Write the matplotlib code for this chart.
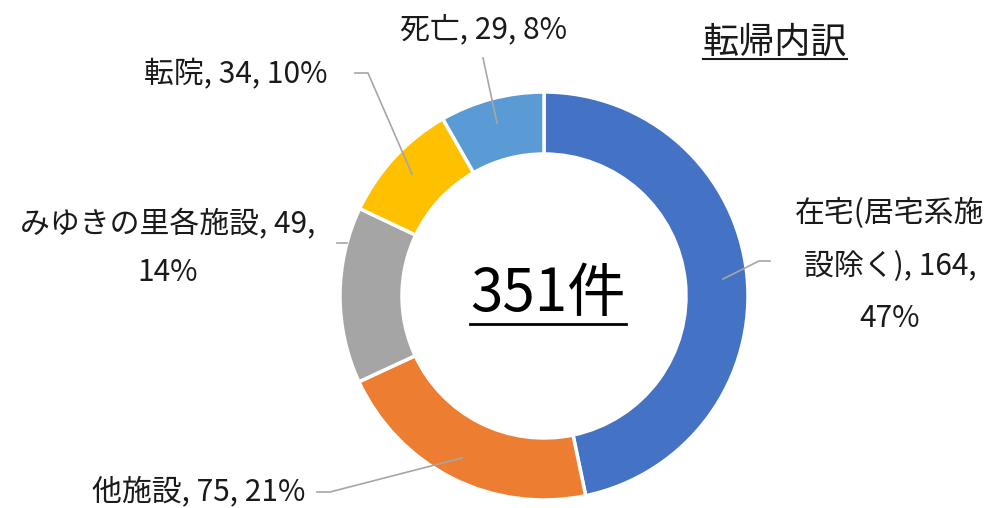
import matplotlib
matplotlib.use("Agg")
import matplotlib.pyplot as plt

plt.rcParams["font.family"] = ["Noto Sans CJK JP", "DejaVu Sans"]

# データ（時計回り、12時から）
names = ["在宅(居宅系施設除く)", "他施設", "みゆきの里各施設", "転院", "死亡"]
counts = [164, 75, 49, 34, 29]
colors = ["#4472C4", "#ED7D31", "#A5A5A5", "#FFC000", "#5B9BD5"]
title = "転帰内訳"
total_label = f"{sum(counts)}件"

W, H = 994, 508
fig = plt.figure(figsize=(W / 100, H / 100), dpi=100)
ax = fig.add_axes([0, 0, 1, 1])

def Y(y):
    return H - y

cx, cy, R = 544, 296, 204
ax.pie(counts, colors=colors, startangle=90, counterclock=False,
       center=(cx, Y(cy)), radius=R, frame=True,
       wedgeprops=dict(width=62, edgecolor="white", linewidth=2.5))
ax.set_xlim(0, W)
ax.set_ylim(0, H)
ax.set_aspect("equal")
ax.axis("off")

total = sum(counts)
pcts = [round(c / total * 100) for c in counts]
texts = [f"{n}, {c}, {p}%" for n, c, p in zip(names, counts, pcts)]
texts[0] = texts[0].replace("施設除く", "施\n設除く").replace("164, ", "164,\n")
texts[2] = texts[2].replace("49, ", "49,\n")

fs = 21.5
lab = dict(fontsize=fs, color="#1a1a1a")
# 在宅
ax.text(890, Y(266), texts[0], ha="center", va="center", linespacing=1.9, **lab)
# 他施設
ax.text(305, Y(492), texts[1], ha="right", va="center", **lab)
# みゆき
ax.text(168, Y(249), texts[2], ha="center", va="center", linespacing=1.7, **lab)
# 転院
ax.text(327, Y(75), texts[3], ha="right", va="center", **lab)
# 死亡
ax.text(484, Y(30), texts[4], ha="center", va="center", **lab)

# 引き出し線
lc = dict(color="#A6A6A6", linewidth=1.2)
leaders = [
    [(770, 261), (759, 261), (723, 279)],
    [(317, 492), (330, 492), (462, 458)],
    [(337, 243), (347, 243)],
    [(355, 73), (368, 73), (412, 174)],
    [(483, 58), (497, 123)],
]
for pts in leaders:
    ax.plot([p[0] for p in pts], [Y(p[1]) for p in pts], **lc)

t_center = ax.text(548, Y(295), total_label, ha="center", va="center",
                   fontsize=42, color="black")
t_title = ax.text(775, Y(43), title, ha="center", va="center",
                  fontsize=26, color="#1a1a1a")

fig.canvas.draw()
r = fig.canvas.get_renderer()
inv = ax.transData.inverted()
for t, lw, off in [(t_center, 2.0, 2), (t_title, 1.5, 2)]:
    bb = t.get_window_extent(renderer=r)
    (x0, y0), (x1, y1) = inv.transform([(bb.x0, bb.y0), (bb.x1, bb.y1)])
    ax.plot([x0, x1], [y0 + off, y0 + off], color=t.get_color(), linewidth=lw)

fig.savefig("out.png", dpi=100)
